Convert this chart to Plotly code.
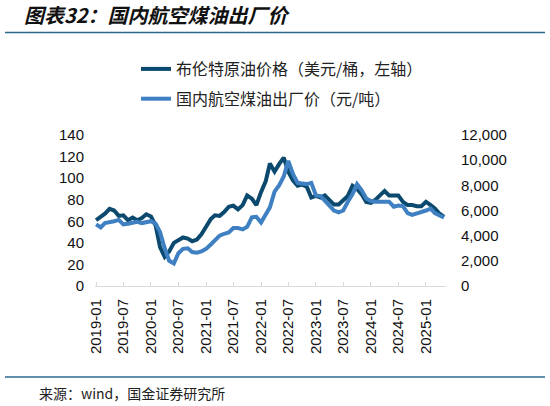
import pandas as pd
import plotly.graph_objects as go

# monthly data, 2019-01 .. 2025-05
months = pd.date_range("2019-01-01", "2025-05-01", freq="MS")

# Brent crude, USD/bbl (left axis)
brent = [61, 64, 67, 71.5, 70, 65, 65.5, 61, 63.5, 61, 63, 66.5,
         64.5, 56, 36, 27, 32, 40, 43, 45, 44, 41.5, 43, 48,
         55, 62, 65.5, 65, 68.5, 73.5, 74.5, 71, 75, 84, 81, 75,
         87, 97, 113.5, 106, 113, 119, 106, 98, 93, 94, 92, 82,
         83.5, 82, 84, 80, 75.5, 75.5, 79, 83.5, 93, 90, 85, 78,
         77, 80, 84, 88, 84, 84, 84, 78, 75, 75, 74, 74,
         78, 75, 72, 67, 64]

# domestic jet fuel ex-factory price, CNY/t (right axis)
jet_fuel = [4900, 4650, 5000, 5050, 5150, 5250, 4900, 4950, 5000, 5100, 5000, 5050,
            5150, 4950, 4300, 3000, 2000, 1800, 2600, 2950, 3000, 2700, 2650, 2750,
            2950, 3300, 3650, 4000, 4150, 4250, 4600, 4600, 4500, 4700, 5450, 5500,
            5050, 5700, 6250, 7500, 8000, 8700, 9950, 8900, 8200, 8150, 8100, 8200,
            7200, 7150, 6800, 6400, 6000, 5850, 6000, 6700, 7300, 8100, 7600, 6950,
            6750, 6700, 6700, 6750, 6700, 6300, 6400, 6350, 5800, 5650, 5750, 5900,
            6000, 6150, 5800, 5600, 5450]

x_ticks = ["2019-01", "2019-07", "2020-01", "2020-07", "2021-01", "2021-07", "2022-01",
           "2022-07", "2023-01", "2023-07", "2024-01", "2024-07", "2025-01"]

W, H = 550, 406
L, R, T, B = 95, 446, 135, 286   # plot area in pixels


def px(x, y):
    # pixel position -> paper coordinates
    return (x - L) / (R - L), (B - y) / (B - T)


FONT = "Liberation Sans, Arial, sans-serif"
CJK = "Noto Sans CJK SC, sans-serif"

fig = go.Figure()
fig.add_trace(go.Scatter(x=months, y=brent, name="布伦特原油价格（美元/桶，左轴）",
                         mode="lines", line=dict(color="#0b4a6e", width=4),
                         legendgroup="a"))
fig.add_trace(go.Scatter(x=months, y=jet_fuel, name="国内航空煤油出厂价（元/吨）",
                         mode="lines", line=dict(color="#3e80c1", width=4),
                         yaxis="y2", legendgroup="b"))

# rules under title and above source
x0, y0 = px(5, 32.5)
x1, _ = px(545, 32.5)
_, y2 = px(5, 377)
for yy in (y0, y2):
    fig.add_shape(type="line", xref="paper", yref="paper", x0=x0, x1=x1, y0=yy, y1=yy,
                  line=dict(color="#2b6a8c", width=1.5))

sx, sy = px(37, 393)
fig.add_annotation(text="来源：wind，国金证券研究所", xref="paper", yref="paper",
                   x=sx, y=sy, xanchor="left", yanchor="middle", showarrow=False,
                   font=dict(family=CJK, size=14, color="#222222"))

tx, ty = px(22, 15)
fig.add_annotation(text="<b><i>图表32：国内航空煤油出厂价</i></b>", xref="paper", yref="paper",
                   x=tx, y=ty, xanchor="left", yanchor="middle", showarrow=False,
                   font=dict(family=CJK, size=20, color="#111111"))

lx, ly = px(136, 52)

fig.update_layout(
    width=W, height=H,
    margin=dict(l=L, r=W - R, t=T, b=H - B, autoexpand=False),
    paper_bgcolor="white", plot_bgcolor="white",
    showlegend=True,
    legend=dict(x=lx, y=ly, xanchor="left", yanchor="top",
                traceorder="grouped", tracegroupgap=6,
                font=dict(family=CJK, size=16, color="#222222"),
                bgcolor="rgba(0,0,0,0)"),
    xaxis=dict(type="date", range=["2018-12-25", "2025-05-14"],
               tickvals=[d + "-01" for d in x_ticks], ticktext=x_ticks, tickangle=-90,
               ticks="inside", ticklen=4, tickcolor="#d9d9d9",
               showline=True, linecolor="#d9d9d9", linewidth=1,
               showgrid=False, zeroline=False, automargin=False, ticklabelstandoff=6,
               tickfont=dict(family=FONT, size=15, color="#111111")),
    yaxis=dict(range=[0, 140], dtick=20, showgrid=False, zeroline=False, showline=False,
               ticks="", ticklabelstandoff=10, automargin=False,
               tickfont=dict(family=FONT, size=15, color="#111111")),
    yaxis2=dict(range=[0, 12000], dtick=2000, overlaying="y", side="right",
                tickformat=",", showgrid=False, zeroline=False, showline=False,
                ticks="", ticklabelstandoff=14, automargin=False,
                tickfont=dict(family=FONT, size=15, color="#111111")),
)

# drop the browser's default 8px body margin so the figure sits at the corner
fig.write_html("out.html", config={"displayModeBar": False},
               post_script="document.body.style.margin = '0';")
